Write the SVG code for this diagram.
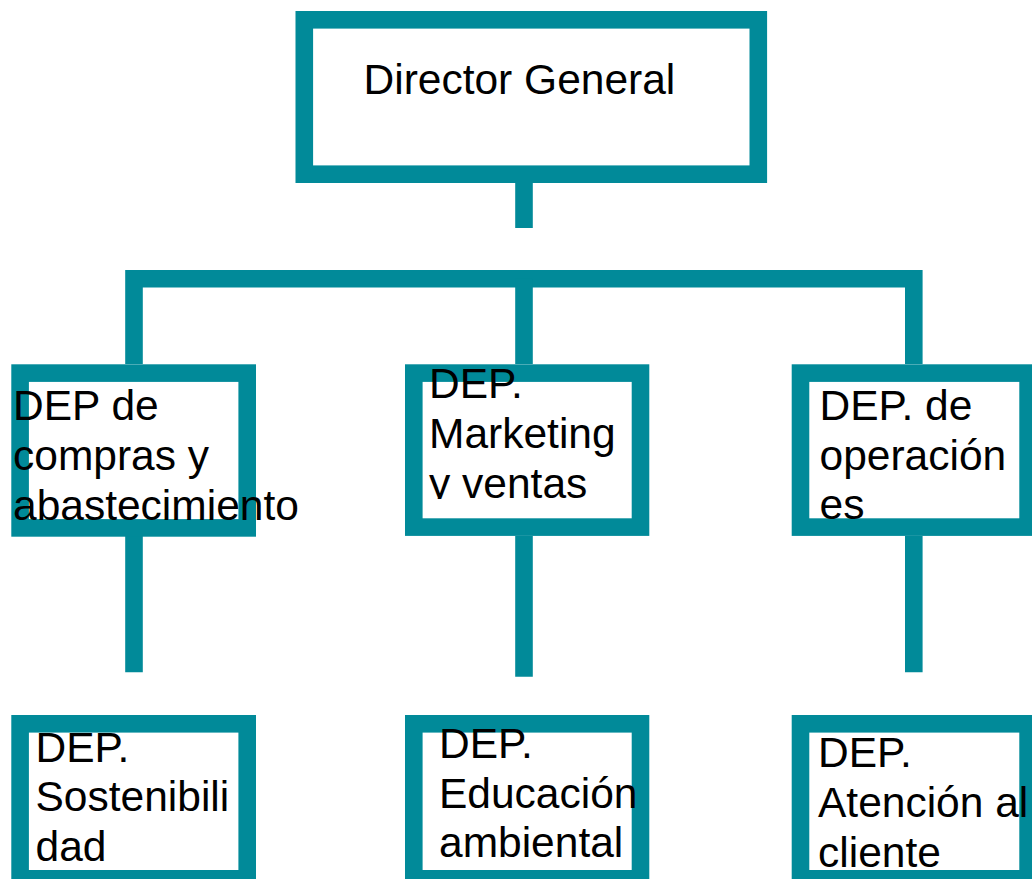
<svg xmlns="http://www.w3.org/2000/svg" width="1032" height="879" viewBox="0 0 1032 879">
  <style>
    .box { fill: #ffffff; stroke: #018A99; stroke-width: 17.6; }
    .conn { fill: none; stroke: #018A99; stroke-width: 17.6; stroke-linejoin: miter; stroke-linecap: butt; }
    .lbl { font-family: "Liberation Sans", Arial, sans-serif; font-size: 42.5px; fill: #000000; }
  </style>
  <defs>
    <clipPath id="clipMid"><rect x="405" y="360" width="260" height="139"/></clipPath>
    <clipPath id="clipRight"><rect x="790" y="360" width="242" height="159.5"/></clipPath>
  </defs>
  <rect x="0" y="0" width="1032" height="879" fill="#ffffff"/>

  <g id="connectors">
    <path class="conn" d="M524,183 V228"/>
    <path class="conn" d="M134,364 V278.8 H913.8 V364"/>
    <path class="conn" d="M524,278.8 V364"/>
    <path class="conn" d="M134,536 V672.3"/>
    <path class="conn" d="M524,536 V676.7"/>
    <path class="conn" d="M913.8,536 V672.3"/>
  </g>

  <g id="director-general">
    <rect class="box" x="304.3" y="19.8" width="454" height="154.4"/>
    <text class="lbl" x="363.5" y="94">Director General</text>
  </g>

  <g id="dep-compras">
    <rect class="box" x="20.1" y="373.1" width="227.1" height="154.8"/>
    <text class="lbl" x="13" y="420">DEP de</text>
    <text class="lbl" x="13" y="470">compras y</text>
    <text class="lbl" x="13" y="520">abastecimiento</text>
  </g>

  <g id="dep-marketing">
    <rect class="box" x="413.8" y="373.1" width="226.7" height="154"/>
    <g clip-path="url(#clipMid)">
      <text class="lbl" x="429" y="398.3">DEP.</text>
      <text class="lbl" x="429" y="448.3">Marketing</text>
      <text class="lbl" x="429" y="498">y ventas</text>
    </g>
  </g>

  <g id="dep-operaciones">
    <rect class="box" x="800.5" y="373.1" width="227.6" height="154"/>
    <g clip-path="url(#clipRight)">
      <text class="lbl" x="819.5" y="420">DEP. de</text>
      <text class="lbl" x="819.5" y="469.5">operación</text>
      <text class="lbl" x="819.5" y="519">es</text>
    </g>
  </g>

  <g id="dep-sostenibilidad">
    <rect class="box" x="20.1" y="723.8" width="227.1" height="155"/>
    <text class="lbl" x="35.5" y="761.7">DEP.</text>
    <text class="lbl" x="35.5" y="810.7">Sostenibili</text>
    <text class="lbl" x="35.5" y="860.7">dad</text>
  </g>

  <g id="dep-educacion">
    <rect class="box" x="413.8" y="723.8" width="226.7" height="155"/>
    <text class="lbl" x="439" y="758.3">DEP.</text>
    <text class="lbl" x="439" y="808">Educación</text>
    <text class="lbl" x="439" y="857">ambiental</text>
  </g>

  <g id="dep-atencion">
    <rect class="box" x="800.5" y="723.8" width="227.6" height="155"/>
    <text class="lbl" x="818" y="767.3">DEP.</text>
    <text class="lbl" x="818" y="817.3">Atención al</text>
    <text class="lbl" x="818" y="866.7">cliente</text>
  </g>
</svg>
